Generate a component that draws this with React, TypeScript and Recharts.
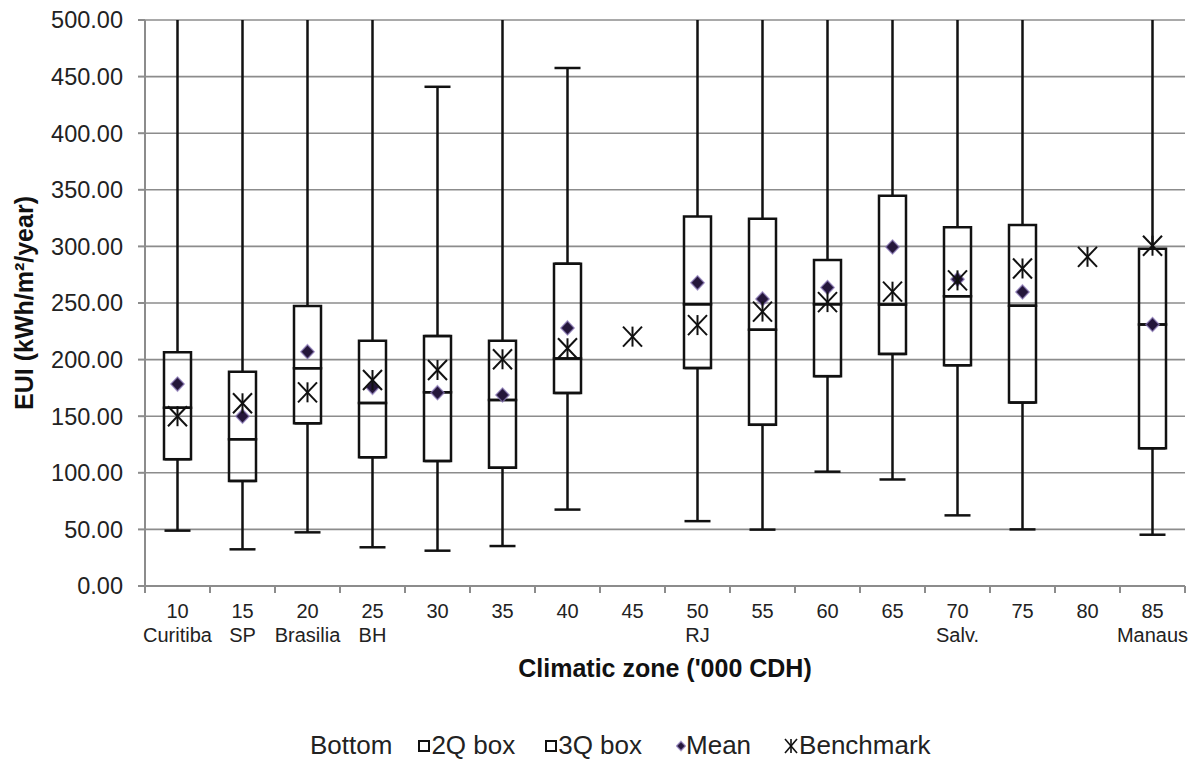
import React from 'react';
import { ComposedChart, Bar, Line, XAxis, YAxis, CartesianGrid, ErrorBar } from 'recharts';

const zones = ['10', '15', '20', '25', '30', '35', '40', '45', '50', '55', '60', '65', '70', '75', '80', '85'];
const cityNames = ['Curitiba', 'SP', 'Brasilia', 'BH', '', '', '', '', 'RJ', '', '', '', 'Salv.', '', '', 'Manaus'];
const minVals = [48.9, 32.4, 47.4, 34.2, 31.2, 35.3, 67.5, null, 57.3, 49.8, 101, 94.1, 62.4, 50, null, 45.3];
const q1Vals = [112, 92.8, 143.7, 113.7, 110.4, 104.5, 170.5, null, 192.5, 142.4, 185.4, 205, 195, 162, null, 121.6];
const medianVals = [157.5, 129.6, 192.3, 161.7, 171.1, 164.3, 201, null, 249, 226.4, 249, 248.6, 255.9, 247.6, null, 231];
const q3Vals = [206.4, 189.3, 247.3, 216.7, 220.8, 216.7, 284.7, null, 326.4, 324.4, 288, 344.7, 316.9, 319, null, 298];
const maxVals = [500, 500, 500, 500, 441, 500, 457.6, null, 500, 500, 500, 500, 500, 500, null, 500];
const meanVals = [178.4, 150, 207, 175.5, 170.8, 168.7, 228, null, 267.8, 253.6, 263.7, 299.5, 271, 259.8, null, 231];
const benchmarkVals = [150, 161.4, 171.1, 182, 190.8, 200.3, 210, 220.3, 230.5, 242.4, 250.8, 260, 270, 280.5, 290.8, 300.6];
const yTicks = [0, 50, 100, 150, 200, 250, 300, 350, 400, 450, 500];
const Y_MAX = 500;

const legendItems = ['Bottom', '2Q box', '3Q box', 'Mean', 'Benchmark'];

const W = 1190;
const H = 760;
const MARGIN = { top: 20, right: 5, bottom: 74, left: 0 };
const Y_AXIS_W = 145;
const PLOT_W = W - MARGIN.left - MARGIN.right - Y_AXIS_W;
const HALF_BAND = PLOT_W / zones.length / 2;
const FONT = '"Liberation Sans", Arial, Helvetica, sans-serif';
const GRID = '#8c8c8c';
const LEGEND_GAPS = [26, 30, 34, 33, 0];

const data = zones.map((zone, i) => {
  const q1 = q1Vals[i];
  const med = medianVals[i];
  const q3 = q3Vals[i];
  const mn = minVals[i];
  const mx = maxVals[i];
  const has = q1 != null && med != null && q3 != null;
  const hiErr = has && mx != null ? [0, mx - (q3 as number)] : null;
  return {
    zone,
    bottom: has ? q1 : null,
    box2: has ? (med as number) - (q1 as number) : null,
    box3: has ? (q3 as number) - (med as number) : null,
    lowErr: has && mn != null ? [(q1 as number) - mn, 0] : null,
    // whiskers that run off the top of the axis have no visible end cap
    highErrCapped: hiErr && (mx as number) < Y_MAX ? hiErr : null,
    highErrOpen: hiErr && (mx as number) >= Y_MAX ? hiErr : null,
    mean: meanVals[i],
    benchmark: benchmarkVals[i],
  };
});

const ZoneTick = (props: any) => {
  const { x, y, payload, index } = props;
  const name = cityNames[index] || '';
  const last = index === zones.length - 1;
  return (
    <g>
      <line x1={x - HALF_BAND} x2={x - HALF_BAND} y1={y} y2={y + 7} stroke={GRID} strokeWidth={2} />
      {last && <line x1={x + HALF_BAND} x2={x + HALF_BAND} y1={y} y2={y + 7} stroke={GRID} strokeWidth={2} />}
      <text x={x} y={y + 32} textAnchor="middle" fontSize={20} fontFamily={FONT} fill="#222">
        {payload.value}
      </text>
      {name && (
        <text x={x} y={y + 56} textAnchor="middle" fontSize={20} fontFamily={FONT} fill="#222">
          {name}
        </text>
      )}
    </g>
  );
};

const XTitle = (props: any) => {
  const vb = props.viewBox || {};
  return (
    <text x={vb.x + vb.width / 2} y={vb.y + 91} textAnchor="middle" fontSize={25} fontWeight="bold" fontFamily={FONT} fill="#111">
      Climatic zone ('000 CDH)
    </text>
  );
};

const YTitle = (props: any) => {
  const vb = props.viewBox || {};
  const cx = 24;
  const cy = vb.y + vb.height / 2;
  return (
    <text x={cx} y={cy} transform={`rotate(-90 ${cx} ${cy})`} textAnchor="middle" dominantBaseline="central" fontSize={25} fontWeight="bold" fontFamily={FONT} fill="#111">
      EUI (kWh/m²/year)
    </text>
  );
};

const Diamond = ({ cx, cy, s = 7 }: { cx: number; cy: number; s?: number }) => (
  <polygon
    points={`${cx},${cy - s} ${cx + s * 0.95},${cy} ${cx},${cy + s} ${cx - s * 0.95},${cy}`}
    fill="#24163a"
    stroke="#8a78b8"
    strokeOpacity={0.7}
    strokeWidth={1.5}
  />
);

const Asterisk = ({ cx, cy, w = 9.5, h = 10, sw = 2 }: { cx: number; cy: number; w?: number; h?: number; sw?: number }) => (
  <g stroke="#111" strokeWidth={sw} fill="none">
    <line x1={cx - w} y1={cy - h} x2={cx + w} y2={cy + h} />
    <line x1={cx - w} y1={cy + h} x2={cx + w} y2={cy - h} />
    <line x1={cx} y1={cy - h} x2={cx} y2={cy + h} />
  </g>
);

const meanDot = (props: any) => {
  const { cx, cy, value, index } = props;
  if (value == null || cy == null || isNaN(cy)) return <g key={`m${index}`} />;
  return <g key={`m${index}`}><Diamond cx={cx} cy={cy} /></g>;
};

const benchDot = (props: any) => {
  const { cx, cy, value, index } = props;
  if (value == null || cy == null || isNaN(cy)) return <g key={`b${index}`} />;
  return <g key={`b${index}`}><Asterisk cx={cx} cy={cy} /></g>;
};

const LegendIcon = ({ kind }: { kind: number }) => {
  if (kind === 0) return null;
  if (kind === 1 || kind === 2)
    return (
      <svg width={12} height={14} style={{ marginRight: 1 }}>
        <rect x={1} y={2} width={10} height={10} fill="none" stroke="#111" strokeWidth={2} />
      </svg>
    );
  if (kind === 3)
    return (
      <svg width={10} height={14} style={{ marginRight: 0 }}>
        <Diamond cx={5} cy={7} s={4.6} />
      </svg>
    );
  return (
    <svg width={14} height={16} style={{ marginRight: 1 }}>
      <Asterisk cx={7} cy={8} w={6} h={7} sw={1.6} />
    </svg>
  );
};

export default function App() {
  return (
    <div style={{ position: 'absolute', left: 0, top: 0, width: W, height: H, background: '#fff' }}>
      <ComposedChart width={W} height={H} data={data} margin={MARGIN}>
        <CartesianGrid vertical={false} stroke={GRID} strokeWidth={1.6} />
        <XAxis
          dataKey="zone"
          height={100}
          interval={0}
          axisLine={{ stroke: GRID, strokeWidth: 2 }}
          tickLine={false}
          tickSize={0}
          tickMargin={0}
          tick={<ZoneTick />}
          label={<XTitle />}
        />
        <YAxis
          width={Y_AXIS_W}
          domain={[0, Y_MAX]}
          ticks={yTicks}
          interval={0}
          tickFormatter={(v: number) => v.toFixed(2)}
          axisLine={{ stroke: GRID, strokeWidth: 2 }}
          tickLine={{ stroke: GRID, strokeWidth: 2 }}
          tickSize={7}
          tickMargin={15}
          tick={{ fontSize: 23.5, fontFamily: FONT, fill: '#222' }}
          label={<YTitle />}
        />
        <Bar dataKey="bottom" stackId="box" fill="none" stroke="none" barSize={27} isAnimationActive={false}>
          <ErrorBar dataKey="lowErr" width={13} stroke="#111" strokeWidth={2.5} direction="y" />
        </Bar>
        <Bar dataKey="box2" stackId="box" fill="none" stroke="#111" strokeWidth={2.5} barSize={27} isAnimationActive={false} />
        <Bar dataKey="box3" stackId="box" fill="none" stroke="#111" strokeWidth={2.5} barSize={27} isAnimationActive={false}>
          <ErrorBar dataKey="highErrCapped" width={13} stroke="#111" strokeWidth={2.5} direction="y" />
          <ErrorBar dataKey="highErrOpen" width={0} stroke="#111" strokeWidth={2.5} direction="y" />
        </Bar>
        <Line dataKey="mean" stroke="none" dot={meanDot} activeDot={false} isAnimationActive={false} />
        <Line dataKey="benchmark" stroke="none" dot={benchDot} activeDot={false} isAnimationActive={false} />
      </ComposedChart>
      <div
        style={{
          position: 'absolute',
          left: 310,
          top: 730,
          display: 'flex',
          alignItems: 'center',
          fontFamily: FONT,
          fontSize: 26,
          color: '#222',
          lineHeight: 'normal',
          whiteSpace: 'nowrap',
        }}
      >
        {legendItems.map((label, i) => (
          <div key={label} style={{ display: 'flex', alignItems: 'center', marginRight: LEGEND_GAPS[i] }}>
            <LegendIcon kind={i} />
            <span>{label}</span>
          </div>
        ))}
      </div>
    </div>
  );
}
